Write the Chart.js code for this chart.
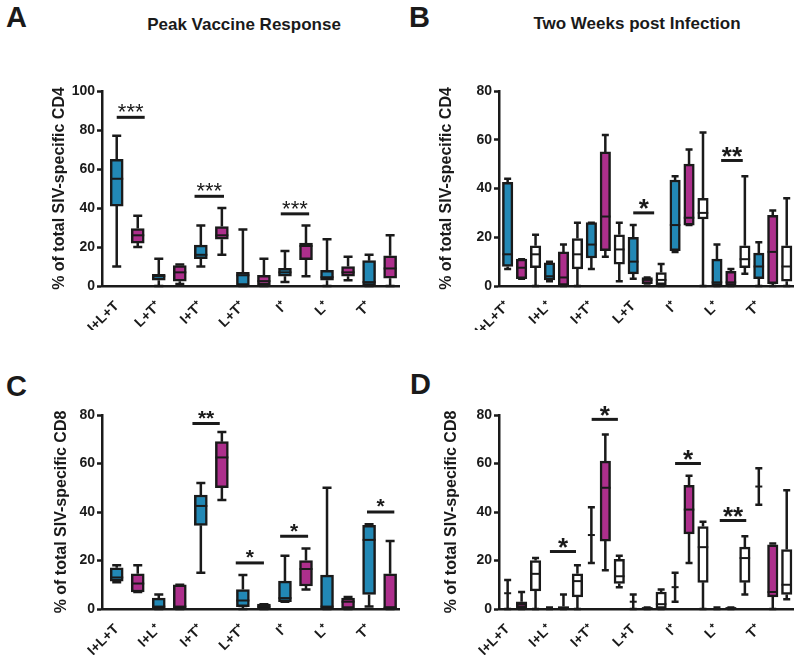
<!DOCTYPE html>
<html>
<head>
<meta charset="utf-8">
<script src="https://cdn.jsdelivr.net/npm/chart.js@4.4.1/dist/chart.umd.min.js"></script>
<style>
  body { margin: 0; background: #fff; width: 800px; height: 655px; position: relative; overflow: hidden;
         font-family: "Liberation Sans", Arial, sans-serif; color: #1a1a1a; }
  canvas { position: absolute; }
  .letter { position: absolute; font-weight: bold; font-size: 29px; line-height: 1; }
  .title { position: absolute; font-weight: bold; font-size: 17px; line-height: 1; transform: translateX(-50%); white-space: nowrap; }
</style>
</head>
<body>
<div class="letter" style="left:6px;top:3px">A</div>
<div class="letter" style="left:409px;top:3px">B</div>
<div class="letter" style="left:6px;top:372px">C</div>
<div class="letter" style="left:410px;top:370px">D</div>
<div class="title" style="left:244px;top:16px">Peak Vaccine Response</div>
<div class="title" style="left:637px;top:15px">Two Weeks post Infection</div>

<canvas id="cA" width="400" height="330" style="left:0;top:0;width:400px;height:330px"></canvas>
<canvas id="cB" width="400" height="330" style="left:400px;top:0;width:400px;height:330px"></canvas>
<canvas id="cC" width="400" height="325" style="left:0;top:330px;width:400px;height:325px"></canvas>
<canvas id="cD" width="400" height="325" style="left:400px;top:330px;width:400px;height:325px"></canvas>

<script>
const FONT = '"Liberation Sans", Arial, sans-serif';
const INK = '#1a1a1a';

// each box = [min, q1, median, q3, max]

// A - peak vaccine response, CD4
const catsA = ['I+L+T', 'L+T⁺', 'I+T⁺', 'L+T⁺', 'I⁺', 'L⁺', 'T⁺'];
const aBlue = [[10, 41, 55, 65, 77], [0, 3, 5, 6, 14], [10, 14, 16, 21, 31], [0, 0, 5.5, 7, 29],
               [2, 5, 7, 9, 18], [0, 3, 4.5, 8, 24], [0, 0, 2, 13, 16]];
const aMagenta = [[20, 22, 26, 29.5, 36], [1, 2.5, 7, 10.5, 11], [16, 24, 26, 30.5, 40], [0, 0.5, 2.5, 5.5, 14],
                  [5, 13.5, 20.5, 22, 31], [3, 5, 7, 10, 15], [0, 4, 9, 15.5, 26]];
const aSigFrom = [0, 3.7, 7.8];
const aSigTo = [1.33, 5.1, 9.15];
const aSigY = [86.5, 46, 37];
const aSigText = ['***', '***', '***'];

// B - two weeks post infection, CD4
const catsB = ['I+L+T⁺', 'I+L⁺', 'I+T⁺', 'L+T', 'I⁺', 'L⁺', 'T⁺'];
const bBlue = [[7, 8, 13, 42.5, 44], [2, 2.5, 4, 9.5, 10], [7, 11.5, 17, 26, 26], [3, 5, 10, 20, 25],
               [14, 14.5, 25, 43.5, 45], [0, 0, 1.5, 11, 17], [0, 3, 8, 13.5, 18]];
const bMagenta = [[3, 3, 7.5, 11, 11], [0, 0, 3.5, 14, 17], [12, 14.5, 28.5, 55, 62], [1, 1, 2.5, 3.5, 3.5],
                  [25, 25, 28, 50, 56], [0, 0, 1.5, 6, 7], [0, 1, 14, 29, 31]];
const bWhite = [[0, 7.5, 13, 16.5, 21], [0, 7, 13, 19.5, 26], [2, 9, 15, 21, 26], [0, 0.5, 2.5, 5.5, 9],
                [0, 27.5, 30, 36, 63], [5, 7.5, 11, 16.5, 45], [0, 2, 8, 16.5, 36]];
const bSigFrom = [9, 15.3];
const bSigTo = [10.5, 16.85];
const bSigY = [30, 51.5];
const bSigText = ['*', '**'];

// C - peak vaccine response, CD8
const catsC = ['I+L+T', 'I+L⁺', 'I+T⁺', 'L+T⁺', 'I⁺', 'L⁺', 'T⁺'];
const cBlue = [[11, 11.5, 13, 17, 18], [0, 0, 1, 4.5, 6], [15, 34.5, 42.5, 47, 52], [0, 1, 3.5, 8, 14],
               [3, 3, 4.5, 11.5, 22], [0, 0, 1, 14, 50], [1, 6, 28.5, 34.5, 35]];
const cMagenta = [[7, 7, 10.5, 14.5, 18], [0, 0, 1, 10, 10], [45, 50, 62.5, 69, 73], [0, 0, 1, 2, 2],
                  [8, 9.5, 16.5, 20, 25], [0, 0, 3, 4.5, 5], [0, 0, 0.5, 14.5, 28]];
const cSigFrom = [3.6, 5.66, 7.77, 11.9];
const cSigTo = [4.9, 7.0, 9.1, 13.2];
const cSigY = [76.5, 19, 30, 40];
const cSigText = ['**', '*', '*', '*'];

// D - two weeks post infection, CD8
const catsD = ['I+L+T', 'I+L⁺', 'I+T⁺', 'L+T', 'I⁺', 'L⁺', 'T⁺'];
const dBare = [[0, 6.5, 6.5, 6.5, 12], [0, 0, 0, 0, 0.6], [19, 30.5, 30.5, 30.5, 42], [0, 3, 3, 3, 6],
               [3, 9, 9, 9, 15], [0, 0, 0, 0, 0.6], [43, 50.5, 50.5, 50.5, 58]];
const dMagenta = [[0, 0.5, 2, 3, 7], [0, 0, 0.5, 1, 6], [16, 28, 50, 61, 72], [0, 0, 0.3, 0.6, 0.6],
                  [19, 31, 41, 51, 55], [0, 0, 0.3, 0.6, 0.6], [0, 5, 7, 26.5, 27]];
const dWhite = [[0, 7.5, 14.5, 20, 21], [0, 5, 11.5, 14.5, 18], [9, 10.5, 13.5, 20.5, 22], [0, 0, 2, 7, 8],
                [0, 11, 25.5, 34, 36], [6, 11, 21, 25.5, 30], [4, 6, 10, 24.5, 49]];
const dSigFrom = [3.03, 6.02, 12.0, 15.2];
const dSigTo = [4.9, 7.9, 13.85, 17.1];
const dSigY = [23.7, 78.2, 60, 36.5];
const dSigText = ['*', '*', '*', '**'];

const fills = { blue: '#2288b5', magenta: '#ad2f8c', white: '#ffffff', bare: null };

// whiskers, medians and significance bars on top of the floating-bar boxes
const boxPlugin = {
  id: 'boxExtras',
  afterDatasetsDraw(chart, args, opts) {
    const ctx = chart.ctx;
    const xs = chart.scales.x, ys = chart.scales.y;
    ctx.save();
    ctx.strokeStyle = INK;
    ctx.lineCap = 'butt';
    chart.data.datasets.forEach(ds => {
      ds.five.forEach((v, c) => {
        const px = xs.getPixelForValue(ds.data[c].x);
        const [mn, q1, md, q3, mx] = v.map(t => ys.getPixelForValue(t));
        const half = opts.capW / 2;
        ctx.lineWidth = 2.5;
        ctx.beginPath();
        if (ds.bare) {
          ctx.moveTo(px, mn); ctx.lineTo(px, mx);
        } else {
          ctx.moveTo(px, q3); ctx.lineTo(px, mx);
          ctx.moveTo(px, q1); ctx.lineTo(px, mn);
        }
        ctx.moveTo(px - half, mx); ctx.lineTo(px + half, mx);
        ctx.moveTo(px - half, mn); ctx.lineTo(px + half, mn);
        ctx.stroke();
        const mw = ds.bare ? half : opts.boxW / 2;
        ctx.lineWidth = 2;
        ctx.beginPath();
        ctx.moveTo(px - mw, md); ctx.lineTo(px + mw, md);
        ctx.stroke();
      });
    });
    // significance bars
    ctx.lineWidth = 3;
    ctx.fillStyle = INK;
    ctx.textAlign = 'center';
    ctx.textBaseline = 'alphabetic';
    ctx.font = opts.starWeight + ' ' + opts.starSize + 'px ' + FONT;
    opts.sigFrom.forEach((f, i) => {
      const x1 = xs.getPixelForValue(f), x2 = xs.getPixelForValue(opts.sigTo[i]);
      const y = ys.getPixelForValue(opts.sigY[i]);
      ctx.beginPath();
      ctx.moveTo(x1, y); ctx.lineTo(x2, y);
      ctx.stroke();
      ctx.fillText(opts.sigText[i], (x1 + x2) / 2, y - 11 + 0.59 * opts.starSize);
    });
    ctx.restore();
  }
};

function makePanel(id, p) {
  const n = p.series.length;
  const datasets = p.series.map(([vals, key], k) => ({
    data: vals.map((v, c) => ({ x: c * n + k, y: [v[1], v[3]] })),
    five: vals,
    bare: fills[key] === null,
    backgroundColor: fills[key] || 'rgba(0,0,0,0)',
    borderColor: INK,
    borderWidth: fills[key] ? 2.5 : 0,
    borderSkipped: false,
    barThickness: p.boxW,
    grouped: false
  }));
  return new Chart(document.getElementById(id), {
    type: 'bar',
    data: { datasets },
    options: {
      responsive: false,
      animation: false,
      layout: { padding: { left: p.padLeft, top: p.padTop, right: p.padRight, bottom: 0 } },
      plugins: {
        legend: { display: false },
        tooltip: { enabled: false },
        boxExtras: {
          capW: p.capW, boxW: p.boxW, starSize: p.starSize, starWeight: p.starWeight,
          sigFrom: p.sigFrom, sigTo: p.sigTo, sigY: p.sigY, sigText: p.sigText
        }
      },
      scales: {
        x: {
          type: 'linear', min: p.xMin, max: p.xMax, offset: false,
          grid: { display: false },
          border: { display: true, color: INK, width: 2.5 },
          afterBuildTicks: s => { s.ticks = p.cats.map((c, i) => ({ value: i * n })); },
          afterFit: s => { s.height = p.xHeight; },
          ticks: {
            autoSkip: false, maxRotation: 45, minRotation: 45, padding: 4, color: INK,
            font: { family: FONT, weight: 'bold', size: 14 },
            callback: (v, i) => p.cats[i]
          }
        },
        y: {
          min: 0, max: p.yMax,
          afterFit: s => { s.width = p.yWidth; },
          ticks: { stepSize: 20, color: INK, padding: 2, font: { family: FONT, weight: 'bold', size: 14 } },
          grid: { drawOnChartArea: false, drawTicks: true, tickLength: 5, tickWidth: 2.5, tickColor: INK },
          border: { display: true, color: INK, width: 2.5 },
          title: {
            display: true, text: p.yTitle, color: INK, padding: { top: 4, bottom: 4 },
            font: { family: FONT, weight: 'bold', size: 16 }
          }
        }
      }
    },
    plugins: [boxPlugin]
  });
}

makePanel('cA', {
  cats: catsA, series: [[aBlue, 'blue'], [aMagenta, 'magenta']], yMax: 100,
  yTitle: '% of total SIV-specific CD4',
  padLeft: 46, yWidth: 56, padTop: 91, padRight: 0, xHeight: 44, xMin: -0.7, xMax: 13.47,
  boxW: 13, capW: 9, starSize: 22, starWeight: 'normal',
  sigFrom: aSigFrom, sigTo: aSigTo, sigY: aSigY, sigText: aSigText
});
makePanel('cB', {
  cats: catsB, series: [[bBlue, 'blue'], [bMagenta, 'magenta'], [bWhite, 'white']], yMax: 80,
  yTitle: '% of total SIV-specific CD4',
  padLeft: 33, yWidth: 66, padTop: 91, padRight: 7, xHeight: 44, xMin: -0.62, xMax: 20.45,
  boxW: 10.5, capW: 7, starSize: 26, starWeight: 'bold',
  sigFrom: bSigFrom, sigTo: bSigTo, sigY: bSigY, sigText: bSigText
});
makePanel('cC', {
  cats: catsC, series: [[cBlue, 'blue'], [cMagenta, 'magenta']], yMax: 80,
  yTitle: '% of total SIV-specific CD8',
  padLeft: 48, yWidth: 54, padTop: 85, padRight: 0, xHeight: 46, xMin: -0.7, xMax: 13.47,
  boxW: 13, capW: 9, starSize: 21, starWeight: 'bold',
  sigFrom: cSigFrom, sigTo: cSigTo, sigY: cSigY, sigText: cSigText
});
makePanel('cD', {
  cats: catsD, series: [[dBare, 'bare'], [dMagenta, 'magenta'], [dWhite, 'white']], yMax: 80,
  yTitle: '% of total SIV-specific CD8',
  padLeft: 38, yWidth: 61, padTop: 85, padRight: 7, xHeight: 46, xMin: -0.62, xMax: 20.45,
  boxW: 10.5, capW: 7, starSize: 26, starWeight: 'bold',
  sigFrom: dSigFrom, sigTo: dSigTo, sigY: dSigY, sigText: dSigText
});
</script>
</body>
</html>
